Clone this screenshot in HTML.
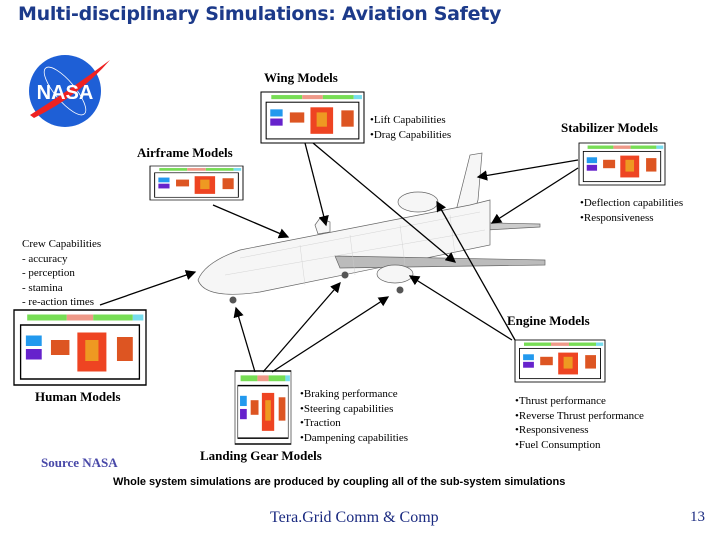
<!DOCTYPE html><html><head><style>
body{margin:0;width:720px;height:540px;background:#fff;position:relative;overflow:hidden;font-family:"Liberation Serif",serif}
.t{position:absolute;white-space:nowrap;font-size:11px;color:#000}
.b{font-weight:bold;font-size:13px}
</style></head><body>
<div class="t" style="left:18px;top:3px;font:bold 19px 'DejaVu Sans',sans-serif;color:#1c3a8a;letter-spacing:-0.3px">Multi-disciplinary Simulations: Aviation Safety</div>
<svg width="720" height="540" style="position:absolute;left:0;top:0">
<defs><marker id="a" markerWidth="8" markerHeight="8" refX="7" refY="4" orient="auto"><path d="M0,0L8,4L0,8z"/></marker>
<g id="box"><rect x="0" y="0" width="100" height="50" fill="#fff" stroke="#000"/><rect x="10" y="3" width="30" height="4" fill="#7d5"/><rect x="40" y="3" width="20" height="4" fill="#e98"/><rect x="60" y="3" width="30" height="4" fill="#7d5"/><rect x="90" y="3" width="8" height="4" fill="#7de"/><rect x="5" y="10" width="90" height="36" fill="none" stroke="#000"/><rect x="9" y="17" width="12" height="7" fill="#29e"/><rect x="9" y="26" width="12" height="7" fill="#62c"/><rect x="28" y="20" width="14" height="10" fill="#d52"/><rect x="48" y="15" width="22" height="26" fill="#e42"/><rect x="54" y="20" width="10" height="14" fill="#e92"/><rect x="78" y="18" width="12" height="16" fill="#d52"/></g></defs>
<circle cx="65" cy="91" r="36" fill="#1e5fd6"/>
<ellipse cx="65" cy="91" rx="10" ry="30" fill="none" stroke="#fff" stroke-width="0.8" transform="rotate(-40 65 91)"/>
<path d="M30,115 Q70,90 110,60 Q80,95 34,118z" fill="#e22"/>
<text x="65" y="99" font-family="Liberation Sans" font-weight="bold" font-size="20" fill="#fff" text-anchor="middle">NASA</text>
<use href="#box" transform="translate(261,92) scale(1.03,1.02)"/>
<use href="#box" transform="translate(579,143) scale(0.86,0.84)"/>
<use href="#box" transform="translate(150,166) scale(0.93,0.68)"/>
<use href="#box" transform="translate(14,310) scale(1.32,1.5)"/>
<use href="#box" transform="translate(515,340) scale(0.9,0.84)"/>
<use href="#box" transform="translate(235,371) scale(0.56,1.46)"/>
<!-- airplane -->
<g fill="#f6f6f6" stroke="#666" stroke-width="0.7">
<path d="M450,222 L540,224 L540,227 L450,232z" fill="#ccc"/>
<path d="M455,215 L470,155 L482,153 L478,200 L470,225z"/>
<path d="M198,280 Q205,262 240,250 L470,205 L490,200 L490,245 L260,292 Q205,300 198,280z"/>
<path d="M335,256 L545,260 L545,265 L340,268z" fill="#bbb"/>
<path d="M315,225 L320,218 L330,222 L330,232 L318,234z"/>
<ellipse cx="418" cy="202" rx="20" ry="10"/>
<ellipse cx="395" cy="274" rx="18" ry="9"/>
</g>
<g stroke="#ccc" stroke-width="0.4"><path d="M240,258 L480,212 M225,275 L485,230 M300,245 L305,285 M350,235 L355,275 M400,225 L405,265 M450,215 L455,255"/></g>
<g fill="#555"><circle cx="233" cy="300" r="3.5"/><circle cx="345" cy="275" r="3.5"/><circle cx="400" cy="290" r="3.5"/></g>
<g stroke="#000" stroke-width="1.3" fill="none">
<line x1="305" y1="143" x2="326" y2="225" marker-end="url(#a)"/>
<line x1="313" y1="143" x2="455" y2="262" marker-end="url(#a)"/>
<line x1="213" y1="205" x2="288" y2="237" marker-end="url(#a)"/>
<line x1="578" y1="160" x2="478" y2="177" marker-end="url(#a)"/>
<line x1="578" y1="168" x2="492" y2="223" marker-end="url(#a)"/>
<line x1="100" y1="305" x2="195" y2="272" marker-end="url(#a)"/>
<line x1="255" y1="372" x2="236" y2="308" marker-end="url(#a)"/>
<line x1="263" y1="372" x2="340" y2="283" marker-end="url(#a)"/>
<line x1="272" y1="372" x2="388" y2="297" marker-end="url(#a)"/>
<line x1="512" y1="340" x2="410" y2="276" marker-end="url(#a)"/>
<line x1="515" y1="340" x2="437" y2="202" marker-end="url(#a)"/>
</g>
</svg>
<div class="t b" style="left:264px;top:70px">Wing Models</div>
<div class="t" style="left:370px;top:113px;line-height:15px">•Lift Capabilities<br>•Drag Capabilities</div>
<div class="t b" style="left:561px;top:120px">Stabilizer Models</div>
<div class="t b" style="left:137px;top:145px">Airframe Models</div>
<div class="t" style="left:580px;top:196px;line-height:15px">•Deflection capabilities<br>•Responsiveness</div>
<div class="t" style="left:22px;top:237px;line-height:14.5px">Crew Capabilities<br>- accuracy<br>- perception<br>- stamina<br>- re-action times</div>
<div class="t b" style="left:507px;top:313px">Engine Models</div>
<div class="t b" style="left:35px;top:389px">Human Models</div>
<div class="t" style="left:300px;top:387px;line-height:14.5px">•Braking performance<br>•Steering capabilities<br>•Traction<br>•Dampening capabilities</div>
<div class="t" style="left:515px;top:394px;line-height:14.5px">•Thrust performance<br>•Reverse Thrust performance<br>•Responsiveness<br>•Fuel Consumption</div>
<div class="t b" style="left:200px;top:448px">Landing Gear Models</div>
<div class="t b" style="left:41px;top:455px;color:#4848a8">Source NASA</div>
<div class="t" style="left:113px;top:476px;font:bold 11px 'Liberation Sans',sans-serif">Whole system simulations are produced by coupling all of the sub-system simulations</div>
<div class="t" style="left:270px;top:509px;font-size:16px;color:#1a2a80">Tera.Grid Comm &amp; Comp</div>
<div class="t" style="left:690px;top:509px;font-size:15px;color:#1a2a80">13</div>
</body></html>
